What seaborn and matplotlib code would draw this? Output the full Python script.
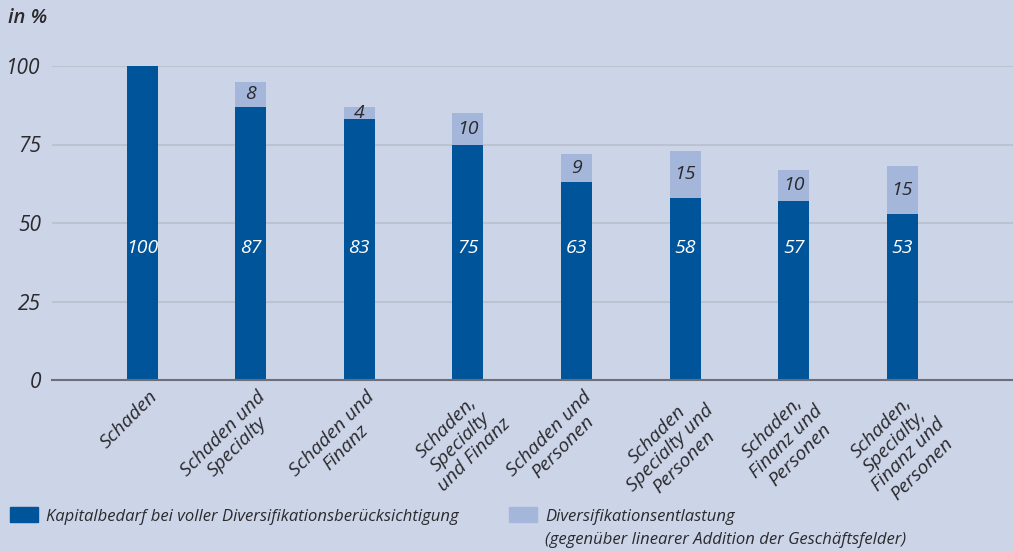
import numpy as np
import pandas as pd
import matplotlib
matplotlib.use('Agg')
import matplotlib.pyplot as plt
import matplotlib.patches as mpatches
import seaborn as sns

# values
categories = ['Schaden', 'Schaden und\nSpecialty', 'Schaden und\nFinanz',
              'Schaden,\nSpecialty\nund Finanz', 'Schaden und\nPersonen',
              'Schaden\nSpecialty und\nPersonen', 'Schaden,\nFinanz und\nPersonen',
              'Schaden,\nSpecialty,\nFinanz und\nPersonen']
kapitalbedarf = [100, 87, 83, 75, 63, 58, 57, 53]
entlastung = [0, 8, 4, 10, 9, 15, 10, 15]
yticks = [0, 25, 50, 75, 100]

bg = '#ccd5e8'
dark = '#00559a'
light = '#a4b6da'
txt = '#2a2a2e'

sns.set_theme(style='white')
plt.rcParams['font.family'] = ['Open Sans', 'DejaVu Sans']
plt.rcParams['font.style'] = 'italic'

df = pd.DataFrame({'cat': categories,
                   'voll': kapitalbedarf,
                   'total': np.array(kapitalbedarf) + np.array(entlastung)})

fig = plt.figure(figsize=(10.13, 5.51), dpi=100, facecolor=bg)
ax = fig.add_axes([52 / 1013, 1 - 380 / 551, 1 - 52 / 1013, (380 - 66) / 551])
ax.set_facecolor(bg)

sns.barplot(data=df, x='cat', y='total', color=light, width=0.285,
            saturation=1, linewidth=0, ax=ax, zorder=3)
sns.barplot(data=df, x='cat', y='voll', color=dark, width=0.285,
            saturation=1, linewidth=0, ax=ax, zorder=3)

ax.set_xlim(-0.83, 8.02)
ax.set_ylim(0, 100)
ax.set_yticks(yticks)
ax.set_yticklabels([str(t) for t in yticks], fontsize=15, color=txt)
ax.tick_params(axis='y', length=0, pad=8)
ax.tick_params(axis='x', length=0, pad=4)
ax.set_xlabel('')
ax.set_ylabel('')
for t in yticks[1:]:
    ax.axhline(t, color='#bcc2cf', lw=1.5, zorder=1)
for s in ['top', 'right', 'left']:
    ax.spines[s].set_visible(False)
ax.spines['bottom'].set_color('#6e6e78')
ax.spines['bottom'].set_linewidth(1.5)
ax.spines['bottom'].set_zorder(4)

ax.set_xticks(range(len(categories)))
ax.set_xticklabels(categories, rotation=45, ha='right', va='top',
                   rotation_mode='anchor', multialignment='center',
                   fontsize=14, color=txt, linespacing=1.1)
for lab in ax.get_xticklabels():
    lab.set_transform(lab.get_transform() + matplotlib.transforms.ScaledTranslation(0.06, -0.02, fig.dpi_scale_trans))

# value labels
for i, (v, e) in enumerate(zip(kapitalbedarf, entlastung)):
    ax.text(i, 42, str(v), ha='center', va='center', color='white',
            fontsize=14, fontweight='medium', zorder=5)
    if e > 0:
        ax.text(i, v + e / 2, str(e), ha='center', va='center', color=txt,
                fontsize=14, fontweight='medium', zorder=5)

fig.text(8 / 1013, 1 - 18 / 551, 'in %', fontsize=14.5, fontweight='semibold',
         color=txt, va='center', ha='left')

# legend
h1 = mpatches.Patch(color=dark)
h2 = mpatches.Patch(color=light)
kw = dict(frameon=False, handlelength=1.65, handleheight=1.0, handletextpad=0.5,
          borderpad=0, borderaxespad=0, labelcolor=txt,
          prop={'size': 12, 'style': 'italic', 'family': ['Open Sans', 'DejaVu Sans']})
fig.legend([h1], ['Kapitalbedarf bei voller Diversifikationsberücksichtigung'],
           loc='center left', bbox_to_anchor=(10 / 1013, 1 - 516 / 551), **kw)
fig.legend([h2], ['Diversifikationsentlastung'],
           loc='center left', bbox_to_anchor=(509 / 1013, 1 - 516 / 551), **kw)
fig.text(545 / 1013, 1 - 540 / 551, '(gegenüber linearer Addition der Geschäftsfelder)',
         fontsize=12, color=txt, va='center', ha='left')

fig.savefig('out.png', dpi=100, facecolor=bg)
